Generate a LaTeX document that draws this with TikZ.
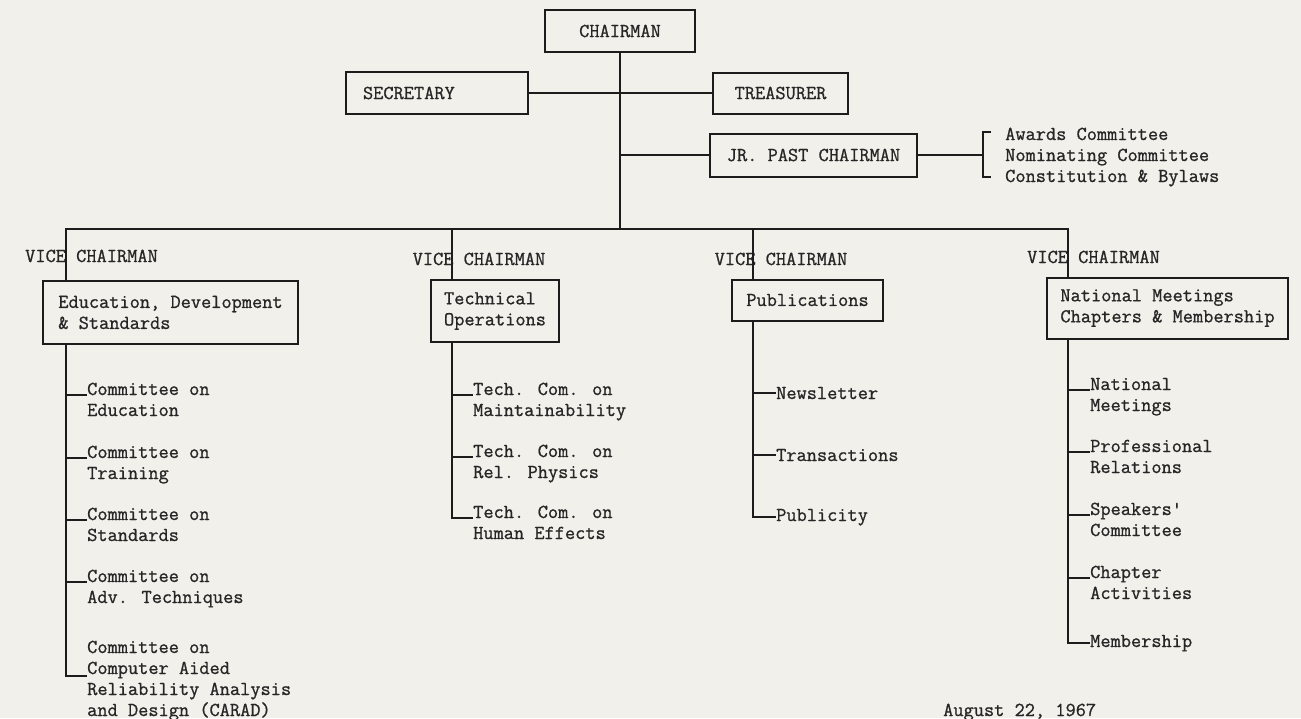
\documentclass[tikz,border=0pt]{standalone}
\usepackage{fontspec}
\newfontfamily\tw[FakeBold=0.9]{Latin Modern Mono}
\definecolor{paper}{HTML}{F2F0EA}
\definecolor{ink}{HTML}{262626}
\definecolor{rule}{HTML}{1C1C1C}
\begin{document}
\begin{tikzpicture}[x=1pt,y=-1pt,
  every node/.style={font=\fontsize{19.8}{21}\selectfont\tw, text=ink, inner sep=0pt},
  box/.style={draw=rule, line width=2pt, minimum height=41pt},
  conn/.style={draw=rule, line width=2pt},
  lbl/.style={anchor=base west, align=left},
  vc/.style={anchor=base}]
\fill[paper] (0,0) rectangle (1301,718);
\useasboundingbox (0,0) rectangle (1301,718);

% top level
\node[box, minimum width=150pt, minimum height=42pt] (chair) at (620,31) {CHAIRMAN};
\node[box, minimum width=182pt, minimum height=42pt, text width=148pt, align=left, inner xsep=17pt] (sec) at (437,93) {SECRETARY};
\node[box, minimum width=135pt] (treas) at (780.5,93) {TREASURER};
\node[box, minimum width=207pt, minimum height=43pt] (jr) at (813.5,155) {JR. PAST CHAIRMAN};
\node[lbl] (awards) at (1005,182) {Awards Committee\\Nominating Committee\\Constitution \& Bylaws};

\coordinate (bus) at (620,229);
\coordinate (brk) at (983,155);
\coordinate (brkT) at (991,132);
\coordinate (brkB) at (991,177);

\draw[conn] (chair.south) -- (bus);
\draw[conn] (sec.east) -- (treas.west);
\draw[conn] (chair.south |- jr.west) -- (jr.west);
\draw[conn] (jr.east) -- (brk);
\draw[conn] (brkT) -- (brkT -| brk) -- (brkB -| brk) -- (brkB);

% vice chairmen
\node[vc] (vc1) at (91.5,262) {VICE CHAIRMAN};
\node[vc] (vc2) at (479,265) {VICE CHAIRMAN};
\node[vc] (vc3) at (781,265) {VICE CHAIRMAN};
\node[vc] (vc4) at (1093.5,263) {VICE CHAIRMAN};

\node[box, minimum width=255pt, minimum height=63pt, align=left] (b1) at (170.5,312.5) {Education, Development\\\& Standards};
\node[box, minimum width=128pt, minimum height=62pt, align=left] (b2) at (495,311) {Technical\\Operations};
\node[box, minimum width=151pt, minimum height=41pt] (b3) at (807.5,300) {Publications};
\node[box, minimum width=241pt, minimum height=61pt, align=left] (b4) at (1167.5,308) {National Meetings\\Chapters \& Membership};

\coordinate (busL) at (66,229);
\coordinate (bus2) at (452,229);
\coordinate (bus3) at (753,229);
\coordinate (busR) at (1068,229);
\draw[conn] (b1.north -| busL) -- (busL) -- (busR) -- (b4.north -| busR);
\draw[conn] (bus2) -- (b2.north -| bus2);
\draw[conn] (bus3) -- (b3.north -| bus3);

% column 1 (node base = last line's baseline)
\node[lbl] (c1) at (87,416) {Committee on\\Education};
\node[lbl] (c2) at (87,479) {Committee on\\Training};
\node[lbl] (c3) at (87,541) {Committee on\\Standards};
\node[lbl] (c4) at (87,603) {Committee on\\Adv. Techniques};
\node[lbl] (c5) at (87,716) {Committee on\\Computer Aided\\Reliability Analysis\\and Design (CARAD)};
\coordinate (k1) at (66,676);
\coordinate (c5t) at (87,676);
\draw[conn] (b1.south -| k1) -- (k1) -- (c5t);
\foreach \n in {c1,c2,c3,c4} \draw[conn] ([yshift=21pt]\n.base west -| k1) -- ([yshift=21pt]\n.base west);

% column 2
\node[lbl] (d1) at (473,416) {Tech. Com. on\\Maintainability};
\node[lbl] (d2) at (473,478) {Tech. Com. on\\Rel. Physics};
\node[lbl] (d3) at (473,539) {Tech. Com. on\\Human Effects};
\coordinate (k2) at (452,518);
\draw[conn] (b2.south -| k2) -- (k2) -- ([yshift=21pt]d3.base west);
\foreach \n in {d1,d2} \draw[conn] ([yshift=21pt]\n.base west -| k2) -- ([yshift=21pt]\n.base west);

% column 3
\node[lbl] (e1) at (776,399) {Newsletter};
\node[lbl] (e2) at (776,461) {Transactions};
\node[lbl] (e3) at (776,521) {Publicity};
\coordinate (k3) at (753,515);
\draw[conn] (b3.south -| k3) -- (e3.west -| k3) -- (e3.west);
\foreach \n in {e1,e2} \draw[conn] (\n.west -| k3) -- (\n.west);

% column 4
\node[lbl] (f1) at (1090,411) {National\\Meetings};
\node[lbl] (f2) at (1090,473) {Professional\\Relations};
\node[lbl] (f3) at (1090,536) {Speakers'\\Committee};
\node[lbl] (f4) at (1090,599) {Chapter\\Activities};
\node[lbl] (f5) at (1090,647) {Membership};
\coordinate (k4) at (1068,640);
\draw[conn] (b4.south -| k4) -- (f5.west -| k4) -- (f5.west);
\foreach \n in {f1,f2,f3,f4} \draw[conn] ([yshift=21pt]\n.base west -| k4) -- ([yshift=21pt]\n.base west);

% date
\node[lbl] (date) at (943,716) {August 22, 1967};
\end{tikzpicture}
\end{document}
